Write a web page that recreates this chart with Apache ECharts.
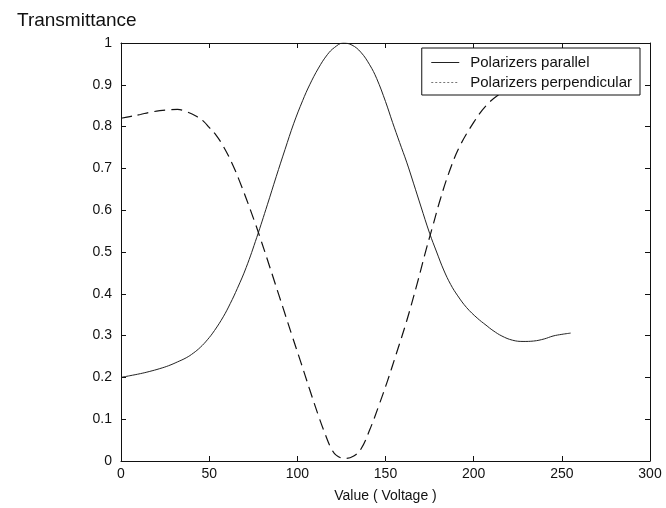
<!DOCTYPE html>
<html>
<head>
<meta charset="utf-8">
<script src="https://cdn.jsdelivr.net/npm/echarts@6/dist/echarts.min.js"></script>
<style>
  html, body { margin: 0; padding: 0; background: #fff; }
  #chart { width: 666px; height: 508px; }
</style>
</head>
<body>
<div id="chart"></div>
<script>
// Transmittance vs. drive value for the two polarizer orientations
const parallelX = [0, 5, 11, 16, 22, 27, 32, 37, 41, 45, 49, 53, 58, 62, 66, 71, 77, 83, 88, 93, 98, 103, 107, 112, 117, 121, 126, 131, 136, 141, 145, 150, 154, 158, 162, 166, 170, 175, 179, 183, 187, 191, 196, 202, 207, 211, 216, 222, 228, 234, 240, 245, 250, 255];
const parallelY = [0.200, 0.204, 0.209, 0.214, 0.221, 0.228, 0.237, 0.247, 0.258, 0.272, 0.290, 0.312, 0.345, 0.377, 0.413, 0.463, 0.535, 0.613, 0.680, 0.745, 0.808, 0.862, 0.900, 0.940, 0.972, 0.989, 1.000, 0.995, 0.978, 0.948, 0.915, 0.860, 0.810, 0.762, 0.715, 0.663, 0.610, 0.545, 0.500, 0.457, 0.422, 0.395, 0.367, 0.342, 0.325, 0.312, 0.299, 0.289, 0.286, 0.287, 0.292, 0.299, 0.303, 0.306];

const perpX = [0, 5, 11, 16, 22, 27, 32, 37, 43, 47, 50, 54, 58, 63, 67, 71, 76, 79, 83, 87, 92, 97, 102, 107, 112, 116, 119, 122, 127, 132, 136, 141, 146, 151, 156, 162, 168, 173, 177, 181, 186, 192, 200, 207, 215, 222, 230, 238, 246, 255];
const perpY = [0.820, 0.824, 0.829, 0.834, 0.838, 0.840, 0.841, 0.836, 0.824, 0.812, 0.798, 0.779, 0.753, 0.712, 0.672, 0.628, 0.570, 0.533, 0.482, 0.430, 0.365, 0.300, 0.236, 0.171, 0.108, 0.062, 0.032, 0.014, 0.006, 0.012, 0.028, 0.074, 0.130, 0.190, 0.255, 0.335, 0.425, 0.505, 0.565, 0.625, 0.690, 0.752, 0.810, 0.850, 0.879, 0.895, 0.905, 0.910, 0.911, 0.908];

const seriesNames = ['Polarizers parallel', 'Polarizers perpendicular'];
const xTicks = { min: 0, max: 300, interval: 50 };
const yTicks = { min: 0, max: 1, interval: 0.1 };

const FONT = "'Liberation Sans', Arial, Helvetica, sans-serif";
const INK = '#111';

const pairs = (xs, ys) => xs.map((x, i) => [x, ys[i]]);

const boxAxis = (extra) => Object.assign({
  type: 'value',
  axisLine: { show: true, onZero: false, lineStyle: { color: INK, width: 1 } },
  axisTick: { show: true, inside: true, length: 5, lineStyle: { color: INK, width: 1 } },
  splitLine: { show: false }
}, extra);

const chart = echarts.init(document.getElementById('chart'), null, { renderer: 'canvas' });

chart.setOption({
  animation: false,
  backgroundColor: '#fff',
  color: ['#222', '#111'],
  title: {
    text: 'Transmittance',
    left: 12,
    top: 6,
    textStyle: { fontFamily: FONT, fontSize: 19, fontWeight: 'normal', color: INK }
  },
  grid: { left: 121, right: 16, top: 43, bottom: 44, containLabel: false },
  legend: {
    orient: 'vertical',
    right: 26,
    top: 48,
    padding: [7, 8, 5, 9],
    itemWidth: 28,
    itemHeight: 14,
    itemGap: 5,
    backgroundColor: '#fff',
    borderColor: INK,
    borderWidth: 1,
    borderRadius: 0,
    textStyle: { fontFamily: FONT, fontSize: 15, color: INK, padding: [0, 0, 0, 6] },
    data: [
      { name: seriesNames[0], itemStyle: { opacity: 0 }, lineStyle: { type: 'solid', color: '#222', width: 1 } },
      { name: seriesNames[1], itemStyle: { opacity: 0 }, lineStyle: { type: [2, 2], color: '#777', width: 1 } }
    ]
  },
  xAxis: [
    boxAxis({
      position: 'bottom',
      min: xTicks.min, max: xTicks.max, interval: xTicks.interval,
      name: 'Value ( Voltage )',
      nameLocation: 'middle',
      nameGap: 28,
      nameTextStyle: { fontFamily: FONT, fontSize: 14, color: INK },
      axisLabel: { fontFamily: FONT, fontSize: 14, color: INK, margin: 6 }
    }),
    boxAxis({
      position: 'top',
      min: xTicks.min, max: xTicks.max, interval: xTicks.interval,
      axisLabel: { show: false }
    })
  ],
  yAxis: [
    boxAxis({
      position: 'left',
      min: yTicks.min, max: yTicks.max, interval: yTicks.interval,
      axisLabel: { fontFamily: FONT, fontSize: 14, color: INK, margin: 9 }
    }),
    boxAxis({
      position: 'right',
      min: yTicks.min, max: yTicks.max, interval: yTicks.interval,
      axisLabel: { show: false }
    })
  ],
  series: [
    {
      name: seriesNames[0],
      type: 'line',
      data: pairs(parallelX, parallelY),
      symbol: 'none',
      smooth: 0.4,
      lineStyle: { color: '#222', width: 1 },
      z: 2
    },
    {
      name: seriesNames[1],
      type: 'line',
      data: pairs(perpX, perpY),
      symbol: 'none',
      smooth: 0.4,
      lineStyle: { color: '#111', width: 1.2, type: [11, 6] },
      z: 2
    }
  ]
});
</script>
</body>
</html>
